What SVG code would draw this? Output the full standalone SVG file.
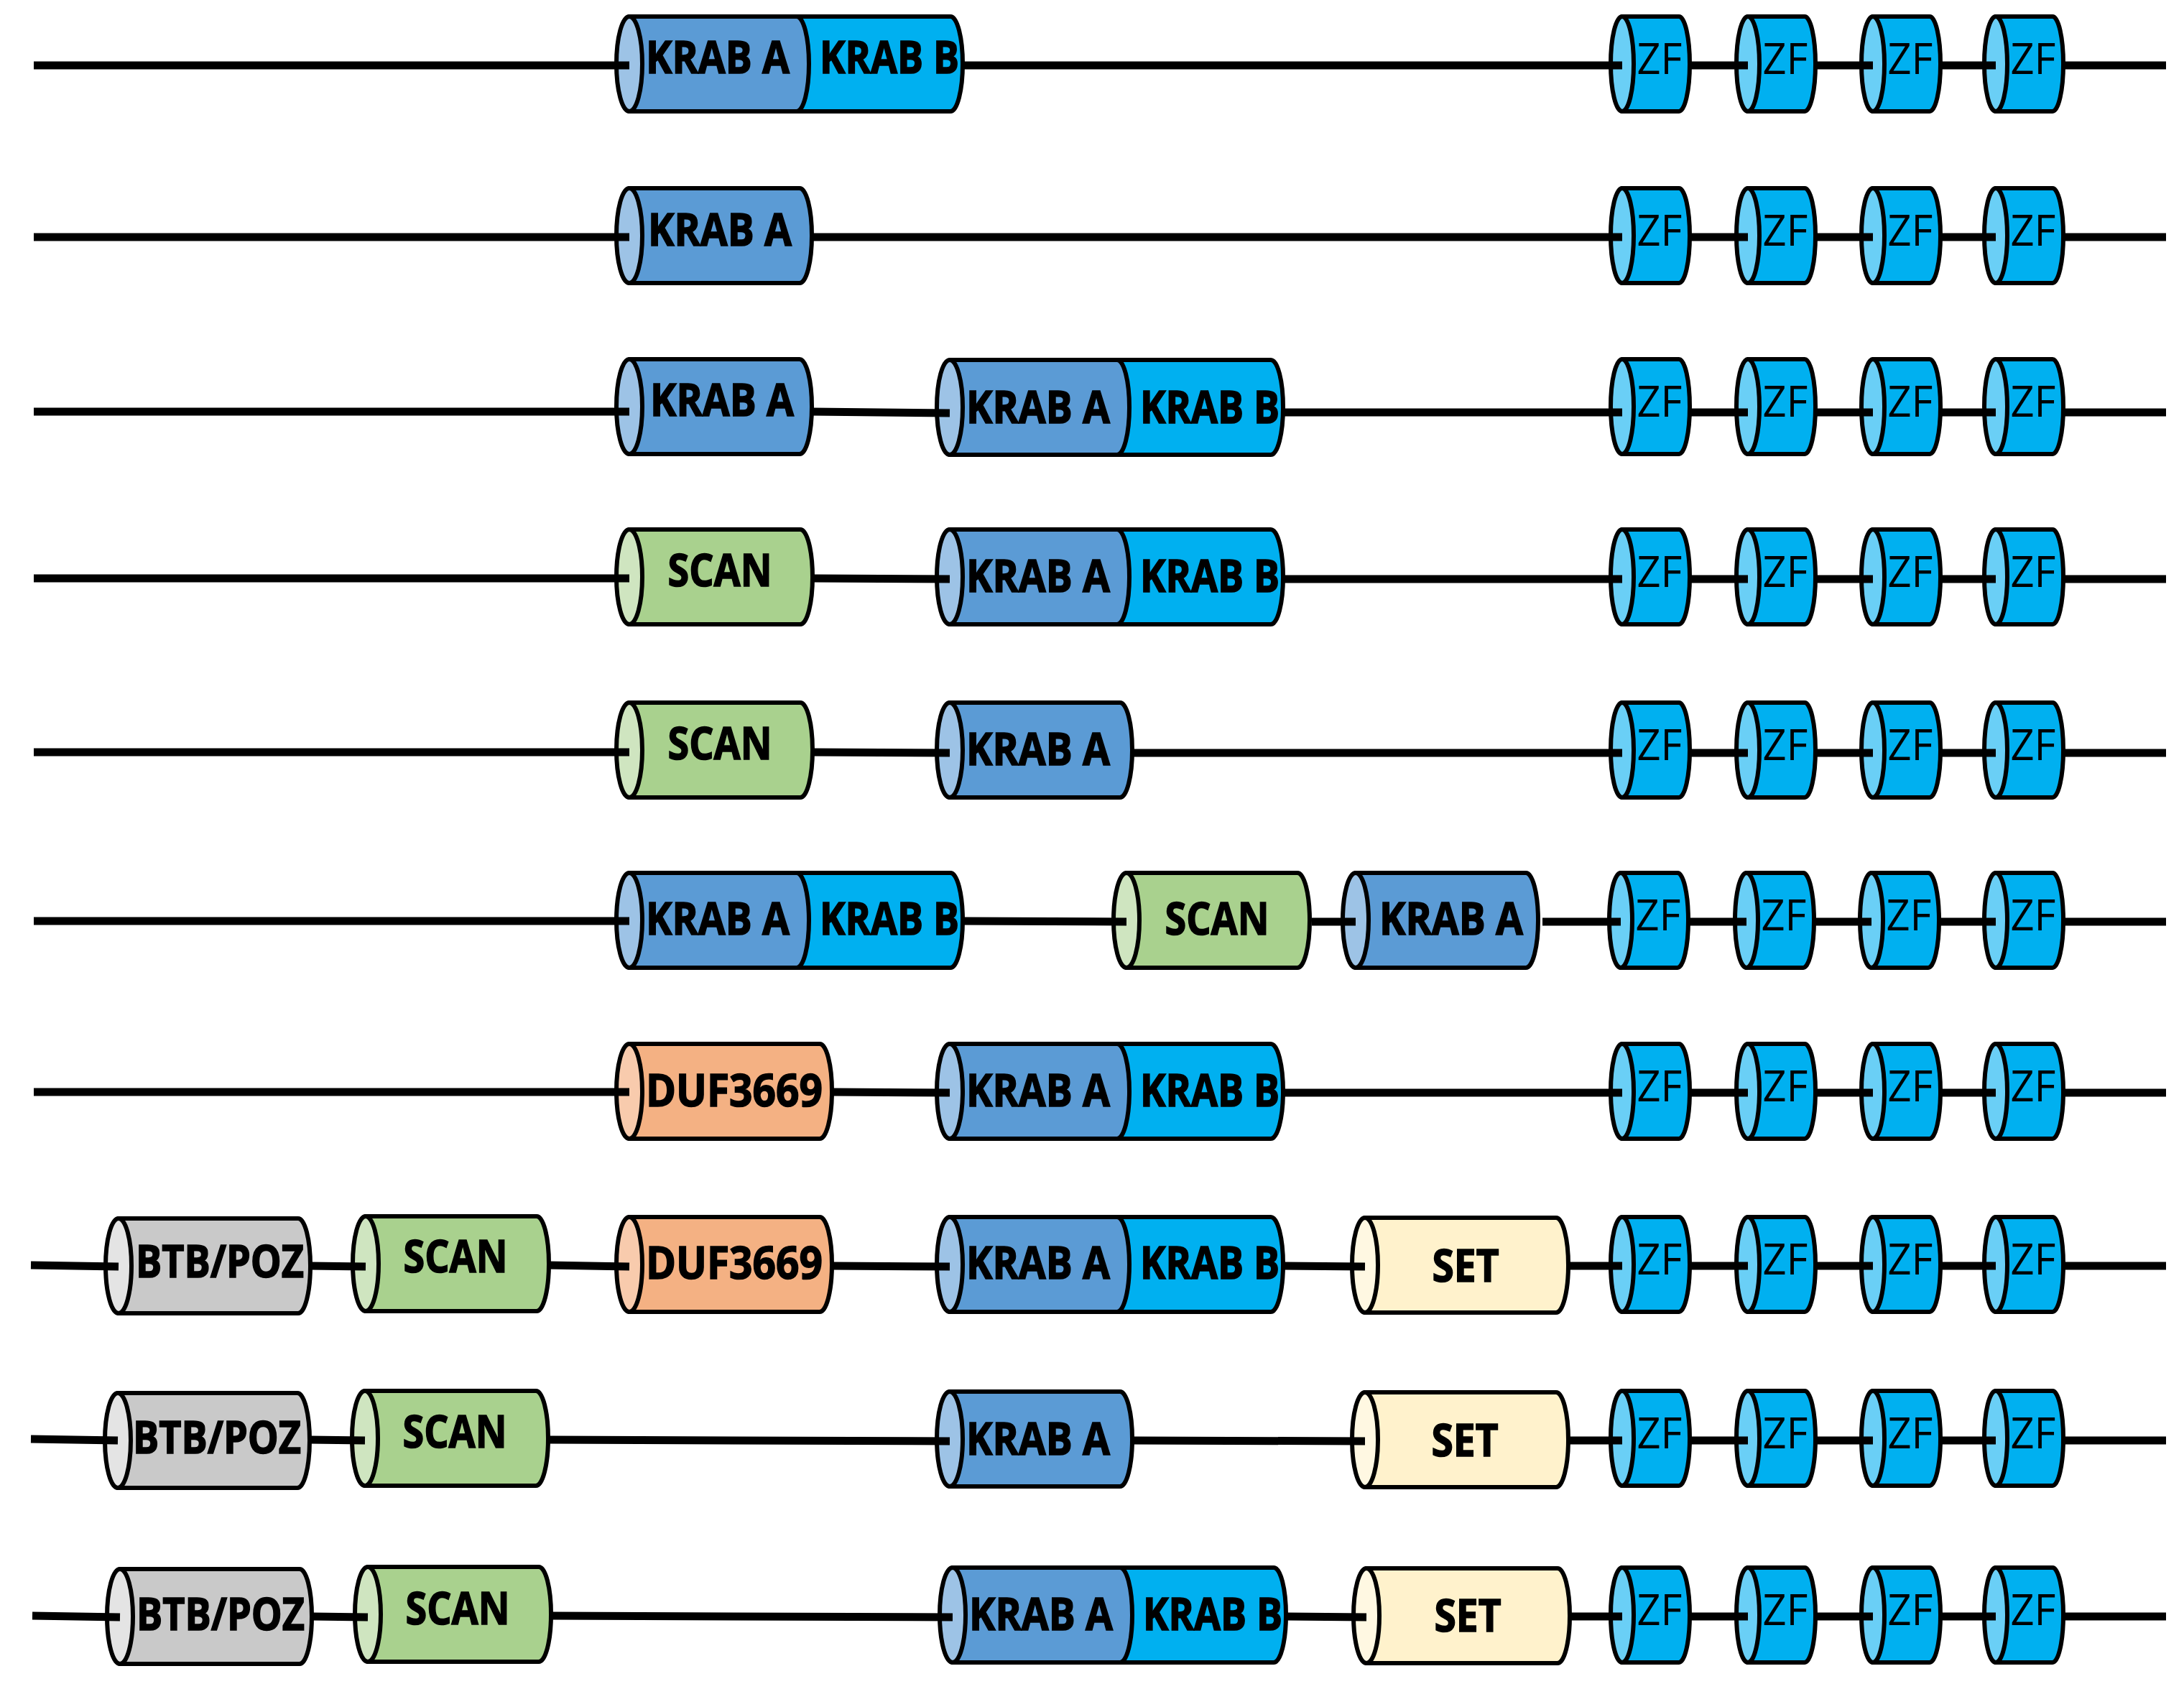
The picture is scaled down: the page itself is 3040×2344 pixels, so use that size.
<svg xmlns="http://www.w3.org/2000/svg" xmlns:xlink="http://www.w3.org/1999/xlink" width="3040" height="2344" viewBox="0 0 3040 2344">
<style>
.o{stroke:#000;stroke-width:6;stroke-linejoin:round}
.ka{fill:#5B9BD5}.kaf{fill:#9DC3E6}.kb{fill:#00B0F0}
.zb{fill:#00B0F0}.zf{fill:#6ACFF6}
.sc{fill:#A9D18E}.scf{fill:#CFE5C0}
.du{fill:#F4B183}.duf{fill:#F8CBAD}
.bt{fill:#C9C9C9}.btf{fill:#E4E4E4}
.se{fill:#FFF2CC}.sef{fill:#FFF8E2}
.t{font-family:"Open Sans","Liberation Sans",sans-serif;font-weight:700;font-size:62px;text-anchor:middle;fill:#000;stroke:#000;stroke-width:1.6}
.z{font-family:"Open Sans","Liberation Sans",sans-serif;font-weight:400;font-size:61px;text-anchor:middle;fill:#000}
.c{stroke:#000;stroke-width:11;fill:none}
</style>
<defs>
<g id="zfShape"><path class="o zb" d="M0,-66 H79 A15 66 0 0 1 79,66 H0 Z"/><ellipse class="o zf" cx="0" cy="0" rx="16" ry="66"/></g>
<g id="kabShape"><path class="o kb" d="M233,-66 H447 A17 66 0 0 1 447,66 H233 Z"/><path class="o ka" d="M0,-66 H233 A17 66 0 0 1 233,66 H0 Z"/><ellipse class="o kaf" cx="0" cy="0" rx="18" ry="66"/></g>
<g id="kaShape"><path class="o ka" d="M0,-66 H237 A17 66 0 0 1 237,66 H0 Z"/><ellipse class="o kaf" cx="0" cy="0" rx="18" ry="66"/></g>
<g id="scShape"><path class="o sc" d="M0,-66 H238 A17 66 0 0 1 238,66 H0 Z"/><ellipse class="o scf" cx="0" cy="0" rx="18" ry="66"/></g>
<g id="duShape"><path class="o du" d="M0,-66 H265 A17 66 0 0 1 265,66 H0 Z"/><ellipse class="o duf" cx="0" cy="0" rx="18" ry="66"/></g>
<g id="btShape"><path class="o bt" d="M0,-66 H250 A17 66 0 0 1 250,66 H0 Z"/><ellipse class="o btf" cx="0" cy="0" rx="18" ry="66"/></g>
<g id="seShape"><path class="o se" d="M0,-66 H266 A17 66 0 0 1 266,66 H0 Z"/><ellipse class="o sef" cx="0" cy="0" rx="18" ry="66"/></g>
</defs>
<rect width="3040" height="2344" fill="#fff"/>

<!-- Row 1 -->
<g id="r1-krab" transform="translate(876,89)"><use xlink:href="#kabShape"/><text class="t" x="123" y="13" textLength="200" lengthAdjust="spacingAndGlyphs">KRAB A</text><text class="t" x="362" y="13" textLength="194" lengthAdjust="spacingAndGlyphs">KRAB B</text></g>
<g id="r1-zf1" transform="translate(2258,89)"><use xlink:href="#zfShape"/><text class="z" x="52" y="14" textLength="63" lengthAdjust="spacingAndGlyphs">ZF</text></g>
<g id="r1-zf2" transform="translate(2433,89)"><use xlink:href="#zfShape"/><text class="z" x="52" y="14" textLength="63" lengthAdjust="spacingAndGlyphs">ZF</text></g>
<g id="r1-zf3" transform="translate(2607,89)"><use xlink:href="#zfShape"/><text class="z" x="52" y="14" textLength="63" lengthAdjust="spacingAndGlyphs">ZF</text></g>
<g id="r1-zf4" transform="translate(2778,89)"><use xlink:href="#zfShape"/><text class="z" x="52" y="14" textLength="63" lengthAdjust="spacingAndGlyphs">ZF</text></g>

<!-- Row 2 -->
<g id="r2-kraba" transform="translate(876,328)"><use xlink:href="#kaShape"/><text class="t" x="126" y="14" textLength="200" lengthAdjust="spacingAndGlyphs">KRAB A</text></g>
<g id="r2-zf1" transform="translate(2258,328)"><use xlink:href="#zfShape"/><text class="z" x="52" y="14" textLength="63" lengthAdjust="spacingAndGlyphs">ZF</text></g>
<g id="r2-zf2" transform="translate(2433,328)"><use xlink:href="#zfShape"/><text class="z" x="52" y="14" textLength="63" lengthAdjust="spacingAndGlyphs">ZF</text></g>
<g id="r2-zf3" transform="translate(2607,328)"><use xlink:href="#zfShape"/><text class="z" x="52" y="14" textLength="63" lengthAdjust="spacingAndGlyphs">ZF</text></g>
<g id="r2-zf4" transform="translate(2778,328)"><use xlink:href="#zfShape"/><text class="z" x="52" y="14" textLength="63" lengthAdjust="spacingAndGlyphs">ZF</text></g>

<!-- Row 3 -->
<g id="r3-kraba" transform="translate(876,566)"><use xlink:href="#kaShape"/><text class="t" x="129" y="13" textLength="200" lengthAdjust="spacingAndGlyphs">KRAB A</text></g>
<g id="r3-krab" transform="translate(1322,567)"><use xlink:href="#kabShape"/><text class="t" x="123" y="22" textLength="200" lengthAdjust="spacingAndGlyphs">KRAB A</text><text class="t" x="362" y="22" textLength="194" lengthAdjust="spacingAndGlyphs">KRAB B</text></g>
<g id="r3-zf1" transform="translate(2258,566)"><use xlink:href="#zfShape"/><text class="z" x="52" y="14" textLength="63" lengthAdjust="spacingAndGlyphs">ZF</text></g>
<g id="r3-zf2" transform="translate(2433,566)"><use xlink:href="#zfShape"/><text class="z" x="52" y="14" textLength="63" lengthAdjust="spacingAndGlyphs">ZF</text></g>
<g id="r3-zf3" transform="translate(2607,566)"><use xlink:href="#zfShape"/><text class="z" x="52" y="14" textLength="63" lengthAdjust="spacingAndGlyphs">ZF</text></g>
<g id="r3-zf4" transform="translate(2778,566)"><use xlink:href="#zfShape"/><text class="z" x="52" y="14" textLength="63" lengthAdjust="spacingAndGlyphs">ZF</text></g>

<!-- Row 4 -->
<g id="r4-scan" transform="translate(876,803)"><use xlink:href="#scShape"/><text class="t" x="126" y="13" textLength="145" lengthAdjust="spacingAndGlyphs">SCAN</text></g>
<g id="r4-krab" transform="translate(1322,803)"><use xlink:href="#kabShape"/><text class="t" x="123" y="21" textLength="200" lengthAdjust="spacingAndGlyphs">KRAB A</text><text class="t" x="362" y="21" textLength="194" lengthAdjust="spacingAndGlyphs">KRAB B</text></g>
<g id="r4-zf1" transform="translate(2258,803)"><use xlink:href="#zfShape"/><text class="z" x="52" y="14" textLength="63" lengthAdjust="spacingAndGlyphs">ZF</text></g>
<g id="r4-zf2" transform="translate(2433,803)"><use xlink:href="#zfShape"/><text class="z" x="52" y="14" textLength="63" lengthAdjust="spacingAndGlyphs">ZF</text></g>
<g id="r4-zf3" transform="translate(2607,803)"><use xlink:href="#zfShape"/><text class="z" x="52" y="14" textLength="63" lengthAdjust="spacingAndGlyphs">ZF</text></g>
<g id="r4-zf4" transform="translate(2778,803)"><use xlink:href="#zfShape"/><text class="z" x="52" y="14" textLength="63" lengthAdjust="spacingAndGlyphs">ZF</text></g>

<!-- Row 5 -->
<g id="r5-scan" transform="translate(876,1044)"><use xlink:href="#scShape"/><text class="t" x="126" y="13" textLength="145" lengthAdjust="spacingAndGlyphs">SCAN</text></g>
<g id="r5-kraba" transform="translate(1322,1044)"><use xlink:href="#kaShape"/><text class="t" x="123" y="21" textLength="200" lengthAdjust="spacingAndGlyphs">KRAB A</text></g>
<g id="r5-zf1" transform="translate(2258,1044)"><use xlink:href="#zfShape"/><text class="z" x="52" y="14" textLength="63" lengthAdjust="spacingAndGlyphs">ZF</text></g>
<g id="r5-zf2" transform="translate(2433,1044)"><use xlink:href="#zfShape"/><text class="z" x="52" y="14" textLength="63" lengthAdjust="spacingAndGlyphs">ZF</text></g>
<g id="r5-zf3" transform="translate(2607,1044)"><use xlink:href="#zfShape"/><text class="z" x="52" y="14" textLength="63" lengthAdjust="spacingAndGlyphs">ZF</text></g>
<g id="r5-zf4" transform="translate(2778,1044)"><use xlink:href="#zfShape"/><text class="z" x="52" y="14" textLength="63" lengthAdjust="spacingAndGlyphs">ZF</text></g>

<!-- Row 6 -->
<g id="r6-krab" transform="translate(876,1281)"><use xlink:href="#kabShape"/><text class="t" x="123" y="20" textLength="200" lengthAdjust="spacingAndGlyphs">KRAB A</text><text class="t" x="362" y="20" textLength="194" lengthAdjust="spacingAndGlyphs">KRAB B</text></g>
<g id="r6-scan" transform="translate(1568,1281)"><use xlink:href="#scShape"/><text class="t" x="126" y="20" textLength="145" lengthAdjust="spacingAndGlyphs">SCAN</text></g>
<g id="r6-kraba" transform="translate(1887,1281)"><use xlink:href="#kaShape"/><text class="t" x="133" y="20" textLength="200" lengthAdjust="spacingAndGlyphs">KRAB A</text></g>
<g id="r6-zf1" transform="translate(2256,1281)"><use xlink:href="#zfShape"/><text class="z" x="52" y="14" textLength="63" lengthAdjust="spacingAndGlyphs">ZF</text></g>
<g id="r6-zf2" transform="translate(2431,1281)"><use xlink:href="#zfShape"/><text class="z" x="52" y="14" textLength="63" lengthAdjust="spacingAndGlyphs">ZF</text></g>
<g id="r6-zf3" transform="translate(2605,1281)"><use xlink:href="#zfShape"/><text class="z" x="52" y="14" textLength="63" lengthAdjust="spacingAndGlyphs">ZF</text></g>
<g id="r6-zf4" transform="translate(2778,1281)"><use xlink:href="#zfShape"/><text class="z" x="52" y="14" textLength="63" lengthAdjust="spacingAndGlyphs">ZF</text></g>

<!-- Row 7 -->
<g id="r7-duf" transform="translate(876,1519)"><use xlink:href="#duShape"/><text class="t" x="146" y="21" textLength="246" lengthAdjust="spacingAndGlyphs">DUF3669</text></g>
<g id="r7-krab" transform="translate(1322,1519)"><use xlink:href="#kabShape"/><text class="t" x="123" y="21" textLength="200" lengthAdjust="spacingAndGlyphs">KRAB A</text><text class="t" x="362" y="21" textLength="194" lengthAdjust="spacingAndGlyphs">KRAB B</text></g>
<g id="r7-zf1" transform="translate(2258,1519)"><use xlink:href="#zfShape"/><text class="z" x="52" y="14" textLength="63" lengthAdjust="spacingAndGlyphs">ZF</text></g>
<g id="r7-zf2" transform="translate(2433,1519)"><use xlink:href="#zfShape"/><text class="z" x="52" y="14" textLength="63" lengthAdjust="spacingAndGlyphs">ZF</text></g>
<g id="r7-zf3" transform="translate(2607,1519)"><use xlink:href="#zfShape"/><text class="z" x="52" y="14" textLength="63" lengthAdjust="spacingAndGlyphs">ZF</text></g>
<g id="r7-zf4" transform="translate(2778,1519)"><use xlink:href="#zfShape"/><text class="z" x="52" y="14" textLength="63" lengthAdjust="spacingAndGlyphs">ZF</text></g>

<!-- Row 8 -->
<g id="r8-btb" transform="translate(165,1762)"><use xlink:href="#btShape"/><text class="t" x="141" y="16" textLength="234" lengthAdjust="spacingAndGlyphs">BTB/POZ</text></g>
<g id="r8-scan" transform="translate(509,1759)"><use xlink:href="#scShape"/><text class="t" x="125" y="12" textLength="145" lengthAdjust="spacingAndGlyphs">SCAN</text></g>
<g id="r8-duf" transform="translate(876,1760)"><use xlink:href="#duShape"/><text class="t" x="146" y="20" textLength="246" lengthAdjust="spacingAndGlyphs">DUF3669</text></g>
<g id="r8-krab" transform="translate(1322,1760)"><use xlink:href="#kabShape"/><text class="t" x="123" y="20" textLength="200" lengthAdjust="spacingAndGlyphs">KRAB A</text><text class="t" x="362" y="20" textLength="194" lengthAdjust="spacingAndGlyphs">KRAB B</text></g>
<g id="r8-set" transform="translate(1900,1761)"><use xlink:href="#seShape"/><text class="t" x="140" y="23" textLength="93" lengthAdjust="spacingAndGlyphs">SET</text></g>
<g id="r8-zf1" transform="translate(2258,1760)"><use xlink:href="#zfShape"/><text class="z" x="52" y="14" textLength="63" lengthAdjust="spacingAndGlyphs">ZF</text></g>
<g id="r8-zf2" transform="translate(2433,1760)"><use xlink:href="#zfShape"/><text class="z" x="52" y="14" textLength="63" lengthAdjust="spacingAndGlyphs">ZF</text></g>
<g id="r8-zf3" transform="translate(2607,1760)"><use xlink:href="#zfShape"/><text class="z" x="52" y="14" textLength="63" lengthAdjust="spacingAndGlyphs">ZF</text></g>
<g id="r8-zf4" transform="translate(2778,1760)"><use xlink:href="#zfShape"/><text class="z" x="52" y="14" textLength="63" lengthAdjust="spacingAndGlyphs">ZF</text></g>

<!-- Row 9 -->
<g id="r9-btb" transform="translate(164,2005)"><use xlink:href="#btShape"/><text class="t" x="138" y="18" textLength="234" lengthAdjust="spacingAndGlyphs">BTB/POZ</text></g>
<g id="r9-scan" transform="translate(508,2002)"><use xlink:href="#scShape"/><text class="t" x="125" y="13" textLength="145" lengthAdjust="spacingAndGlyphs">SCAN</text></g>
<g id="r9-kraba" transform="translate(1322,2003)"><use xlink:href="#kaShape"/><text class="t" x="123" y="22" textLength="200" lengthAdjust="spacingAndGlyphs">KRAB A</text></g>
<g id="r9-set" transform="translate(1900,2004)"><use xlink:href="#seShape"/><text class="t" x="139" y="23" textLength="93" lengthAdjust="spacingAndGlyphs">SET</text></g>
<g id="r9-zf1" transform="translate(2258,2002)"><use xlink:href="#zfShape"/><text class="z" x="52" y="14" textLength="63" lengthAdjust="spacingAndGlyphs">ZF</text></g>
<g id="r9-zf2" transform="translate(2433,2002)"><use xlink:href="#zfShape"/><text class="z" x="52" y="14" textLength="63" lengthAdjust="spacingAndGlyphs">ZF</text></g>
<g id="r9-zf3" transform="translate(2607,2002)"><use xlink:href="#zfShape"/><text class="z" x="52" y="14" textLength="63" lengthAdjust="spacingAndGlyphs">ZF</text></g>
<g id="r9-zf4" transform="translate(2778,2002)"><use xlink:href="#zfShape"/><text class="z" x="52" y="14" textLength="63" lengthAdjust="spacingAndGlyphs">ZF</text></g>

<!-- Row 10 -->
<g id="r10-btb" transform="translate(167,2250)"><use xlink:href="#btShape"/><text class="t" x="140" y="19" textLength="234" lengthAdjust="spacingAndGlyphs">BTB/POZ</text></g>
<g id="r10-scan" transform="translate(512,2247)"><use xlink:href="#scShape"/><text class="t" x="125" y="14" textLength="145" lengthAdjust="spacingAndGlyphs">SCAN</text></g>
<g id="r10-krab" transform="translate(1326,2248)"><use xlink:href="#kabShape"/><text class="t" x="123" y="21" textLength="200" lengthAdjust="spacingAndGlyphs">KRAB A</text><text class="t" x="362" y="21" textLength="194" lengthAdjust="spacingAndGlyphs">KRAB B</text></g>
<g id="r10-set" transform="translate(1902,2249)"><use xlink:href="#seShape"/><text class="t" x="141" y="22" textLength="93" lengthAdjust="spacingAndGlyphs">SET</text></g>
<g id="r10-zf1" transform="translate(2258,2248)"><use xlink:href="#zfShape"/><text class="z" x="52" y="14" textLength="63" lengthAdjust="spacingAndGlyphs">ZF</text></g>
<g id="r10-zf2" transform="translate(2433,2248)"><use xlink:href="#zfShape"/><text class="z" x="52" y="14" textLength="63" lengthAdjust="spacingAndGlyphs">ZF</text></g>
<g id="r10-zf3" transform="translate(2607,2248)"><use xlink:href="#zfShape"/><text class="z" x="52" y="14" textLength="63" lengthAdjust="spacingAndGlyphs">ZF</text></g>
<g id="r10-zf4" transform="translate(2778,2248)"><use xlink:href="#zfShape"/><text class="z" x="52" y="14" textLength="63" lengthAdjust="spacingAndGlyphs">ZF</text></g>

<g id="connectors" class="c">
<path d="M47,91 H876 M1340,91 H2258 M2352,91 H2433 M2527,91 H2607 M2701,91 H2778 M2872,91 H3015"/>
<path d="M47,330 H876 M1130,330 H2258 M2352,330 H2433 M2527,330 H2607 M2701,330 H2778 M2872,330 H3015"/>
<path d="M47,573 H876 M1130,573 L1322,575 M1786,574 H2258 M2352,574 H2433 M2527,574 H2607 M2701,574 H2778 M2872,574 H3015"/>
<path d="M47,805 H876 M1132,805 L1322,806 M1786,806 H2258 M2352,806 H2433 M2527,806 H2607 M2701,806 H2778 M2872,806 H3015"/>
<path d="M47,1047 H876 M1132,1047 L1322,1048 M1576,1048 H2258 M2352,1048 H2433 M2527,1048 H2607 M2701,1048 H2778 M2872,1048 H3015"/>
<path d="M47,1282 H876 M1340,1282 L1568,1283 M1826,1283 H1887 M2147,1283 H2256 M2350,1283 H2431 M2525,1283 H2605 M2699,1283 H2778 M2872,1283 H3015"/>
<path d="M47,1520 H876 M1158,1520 L1322,1521 M1786,1521 H2258 M2352,1521 H2433 M2527,1521 H2607 M2701,1521 H2778 M2872,1521 H3015"/>
<path d="M43,1761 L165,1763 M432,1762 L509,1763 M762,1761 L876,1763 M1158,1762 L1322,1763 M1786,1762 L1900,1763 M2183,1762 H2258 M2352,1762 H2433 M2527,1762 H2607 M2701,1762 H2778 M2872,1762 H3015"/>
<path d="M43,2003 L164,2005 M431,2004 L508,2005 M761,2004 L1322,2006 M1576,2005 L1900,2006 M2183,2005 H2258 M2352,2005 H2433 M2527,2005 H2607 M2701,2005 H2778 M2872,2005 H3015"/>
<path d="M45,2249 L167,2251 M434,2250 L512,2251 M765,2249 L1326,2251 M1790,2250 L1902,2251 M2185,2250 H2258 M2352,2250 H2433 M2527,2250 H2607 M2701,2250 H2778 M2872,2250 H3015"/>
</g>
</svg>
